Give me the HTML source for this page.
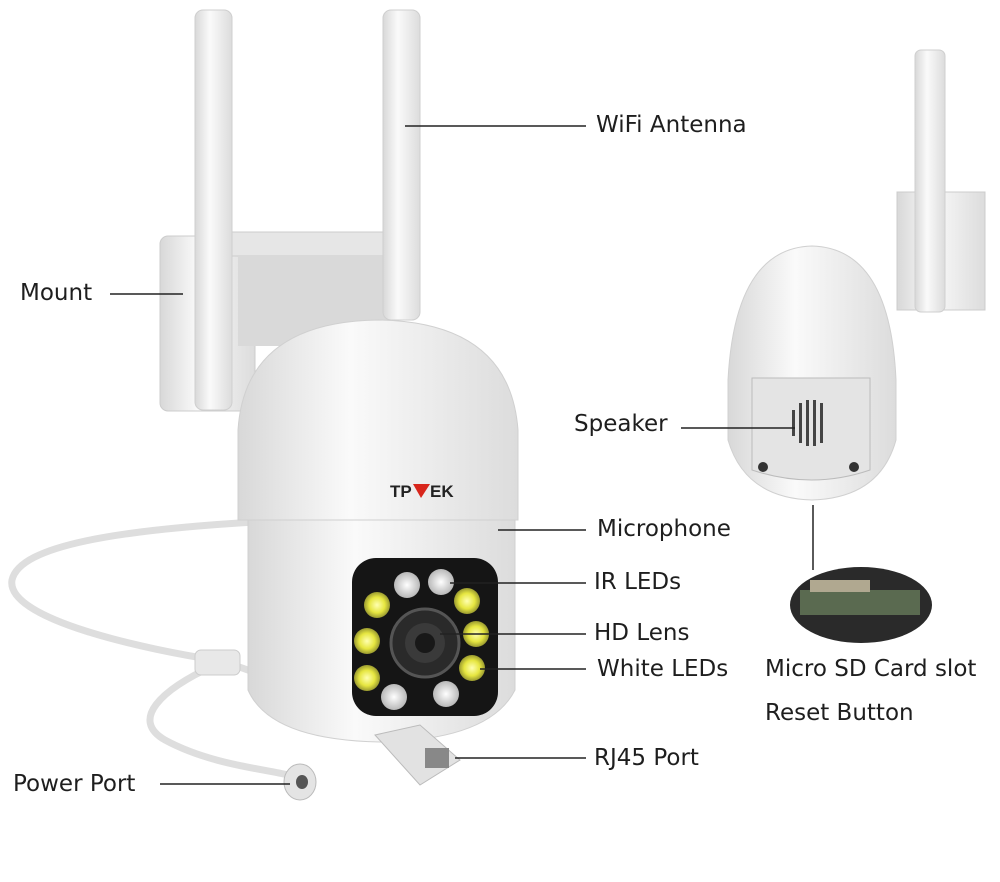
<!DOCTYPE html>
<html><head><meta charset="utf-8"><style>
html,body{margin:0;padding:0;background:#fff;}
body{width:1000px;height:882px;overflow:hidden;position:relative;font-family:"DejaVu Sans",sans-serif;}
.t{position:absolute;font-size:23px;color:#1e1e1e;white-space:nowrap;line-height:1;}
</style></head><body>
<svg width="1000" height="882" style="position:absolute;left:0;top:0">
<defs>
<linearGradient id="w" x1="0" x2="1"><stop offset="0" stop-color="#d8d8d8"/><stop offset="0.4" stop-color="#fafafa"/><stop offset="1" stop-color="#dcdcdc"/></linearGradient>
<radialGradient id="led"><stop offset="0" stop-color="#ffffb0"/><stop offset="0.6" stop-color="#e6e640"/><stop offset="1" stop-color="#9a9a30"/></radialGradient>
<radialGradient id="ir"><stop offset="0" stop-color="#fff"/><stop offset="1" stop-color="#b8b8b8"/></radialGradient>
</defs>
<rect x="160" y="236" width="95" height="175" rx="8" fill="url(#w)" stroke="#ccc"/>
<rect x="232" y="232" width="160" height="24" fill="#e6e6e6" stroke="#ccc"/>
<rect x="238" y="256" width="150" height="90" fill="#d9d9d9"/>
<rect x="195" y="10" width="37" height="400" rx="8" fill="url(#w)" stroke="#cfcfcf"/>
<rect x="383" y="10" width="37" height="310" rx="8" fill="url(#w)" stroke="#cfcfcf"/>
<path d="M255 522 C120 530 20 545 12 580 C5 620 150 650 215 660 C250 668 300 690 390 735" fill="none" stroke="#dedede" stroke-width="7"/>
<path d="M215 665 C160 690 130 720 165 740 C220 770 290 770 300 780" fill="none" stroke="#dedede" stroke-width="7"/>
<rect x="195" y="650" width="45" height="25" rx="6" fill="#e8e8e8" stroke="#ccc"/>
<ellipse cx="300" cy="782" rx="16" ry="18" fill="#e4e4e4" stroke="#bbb"/>
<ellipse cx="302" cy="782" rx="6" ry="7" fill="#555"/>
<path d="M248 520 L515 520 L515 690 Q490 740 380 742 Q270 740 248 690 Z" fill="url(#w)" stroke="#d0d0d0"/>
<path d="M238 520 L238 430 Q245 322 378 320 Q510 322 518 430 L518 520 Z" fill="url(#w)" stroke="#d0d0d0"/>
<text x="390" y="497" font-family="Liberation Sans" font-weight="bold" font-size="17" fill="#222">TP</text>
<text x="430" y="497" font-family="Liberation Sans" font-weight="bold" font-size="17" fill="#222">EK</text>
<polygon points="413,484 430,484 421,498" fill="#d8261c"/>
<rect x="352" y="558" width="146" height="158" rx="24" fill="#151515"/>
<circle cx="425" cy="643" r="34" fill="#2a2a2a" stroke="#555" stroke-width="3"/>
<circle cx="425" cy="643" r="20" fill="#3a3a3a"/>
<circle cx="425" cy="643" r="10" fill="#181818"/>
<g fill="url(#ir)"><circle cx="407" cy="585" r="13"/><circle cx="441" cy="582" r="13"/><circle cx="394" cy="697" r="13"/><circle cx="446" cy="694" r="13"/></g>
<g fill="url(#led)"><circle cx="377" cy="605" r="13"/><circle cx="467" cy="601" r="13"/><circle cx="367" cy="641" r="13"/><circle cx="476" cy="634" r="13"/><circle cx="367" cy="678" r="13"/><circle cx="472" cy="668" r="13"/></g>
<path d="M375 735 L420 725 L460 760 L420 785 Z" fill="#e2e2e2" stroke="#bbb"/>
<rect x="425" y="748" width="24" height="20" fill="#888"/>
<rect x="897" y="192" width="88" height="118" fill="url(#w)" stroke="#ccc"/>
<rect x="915" y="50" width="30" height="262" rx="6" fill="url(#w)" stroke="#cfcfcf"/>
<path d="M728 380 Q735 248 812 246 Q890 248 896 380 L896 440 Q880 498 812 500 Q745 498 728 440 Z" fill="url(#w)" stroke="#d0d0d0"/>
<path d="M752 378 L870 378 L870 470 Q812 490 752 470 Z" fill="#e4e4e4" stroke="#bbb"/>
<g fill="#444"><rect x="799" y="403" width="3" height="40"/><rect x="806" y="400" width="3" height="46"/><rect x="813" y="400" width="3" height="46"/><rect x="820" y="403" width="3" height="40"/><rect x="792" y="410" width="3" height="26"/></g>
<circle cx="763" cy="467" r="5" fill="#333"/><circle cx="854" cy="467" r="5" fill="#333"/>
<ellipse cx="861" cy="605" rx="71" ry="38" fill="#2a2a2a"/>
<rect x="800" y="590" width="120" height="25" fill="#5a6a50"/>
<rect x="810" y="580" width="60" height="12" fill="#b0a890"/>
<g stroke="#222" stroke-width="1.5">
<line x1="405" y1="126" x2="586" y2="126"/>
<line x1="110" y1="294" x2="183" y2="294"/>
<line x1="681" y1="428" x2="795" y2="428"/>
<line x1="498" y1="530" x2="586" y2="530"/>
<line x1="450" y1="583" x2="586" y2="583"/>
<line x1="440" y1="634" x2="586" y2="634"/>
<line x1="480" y1="669" x2="586" y2="669"/>
<line x1="455" y1="758" x2="586" y2="758"/>
<line x1="160" y1="784" x2="290" y2="784"/>
<line x1="813" y1="505" x2="813" y2="570"/>
</g>
</svg>
<div class="t" style="left:596px;top:114px">WiFi Antenna</div>
<div class="t" style="left:20px;top:282px">Mount</div>
<div class="t" style="left:574px;top:413px">Speaker</div>
<div class="t" style="left:597px;top:518px">Microphone</div>
<div class="t" style="left:594px;top:571px">IR LEDs</div>
<div class="t" style="left:594px;top:622px">HD Lens</div>
<div class="t" style="left:597px;top:658px">White LEDs</div>
<div class="t" style="left:765px;top:658px">Micro SD Card slot</div>
<div class="t" style="left:765px;top:702px">Reset Button</div>
<div class="t" style="left:594px;top:747px">RJ45 Port</div>
<div class="t" style="left:13px;top:773px">Power Port</div>
</body></html>
